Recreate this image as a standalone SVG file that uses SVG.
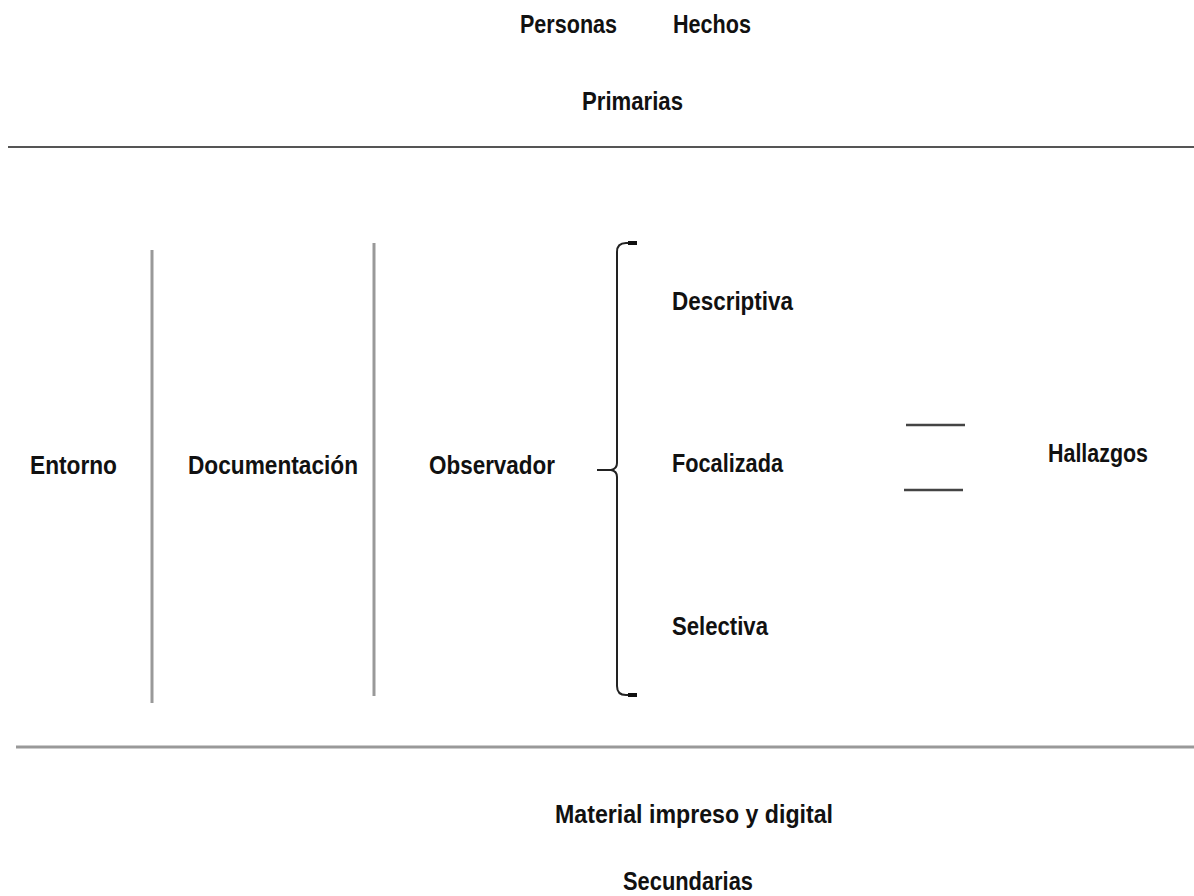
<svg xmlns="http://www.w3.org/2000/svg" width="1194" height="896" viewBox="0 0 1194 896">
  <style>
    .t { font-family: "Liberation Sans", Arial, sans-serif; font-weight: bold; font-size: 25px; fill: #111; }
    .rule { stroke: #555; stroke-width: 2; fill: none; }
    .rule2 { stroke: #999; stroke-width: 3; fill: none; }
    .sep { stroke: #999; stroke-width: 3; fill: none; }
    .dash { stroke: #444; stroke-width: 2.5; fill: none; }
    .brace { stroke: #222; stroke-width: 2; fill: none; }
    .cap { stroke: #111; stroke-width: 4; fill: none; }
  </style>
  <rect width="1194" height="896" fill="#fff"/>

  <g id="primarias">
    <text class="t" x="520" y="33" textLength="97" lengthAdjust="spacingAndGlyphs">Personas</text>
    <text class="t" x="673" y="33" textLength="78" lengthAdjust="spacingAndGlyphs">Hechos</text>
    <text class="t" x="582" y="110" textLength="101" lengthAdjust="spacingAndGlyphs">Primarias</text>
  </g>

  <g id="connectors">
    <line class="rule" x1="8" y1="147" x2="1194" y2="147"/>
    <line class="rule2" x1="16" y1="747" x2="1194" y2="747"/>
    <line class="sep" x1="152" y1="250" x2="152" y2="703"/>
    <line class="sep" x1="374" y1="243" x2="374" y2="696"/>
    <path class="brace" d="M636 243 H626 Q617 243 617 252 V463 Q617 469 611 470 H597 M611 470 Q617 471 617 477 V686 Q617 695 626 695 H636"/>
    <line class="cap" x1="628" y1="243" x2="637" y2="243"/>
    <line class="cap" x1="628" y1="695" x2="637" y2="695"/>
    <line class="dash" x1="906" y1="425" x2="965" y2="425"/>
    <line class="dash" x1="904" y1="490" x2="963" y2="490"/>
  </g>

  <g id="entorno">
    <text class="t" x="30" y="474" textLength="87" lengthAdjust="spacingAndGlyphs">Entorno</text>
  </g>
  <g id="documentacion">
    <text class="t" x="188" y="474" textLength="170" lengthAdjust="spacingAndGlyphs">Documentación</text>
  </g>
  <g id="observador">
    <text class="t" x="429" y="474" textLength="126" lengthAdjust="spacingAndGlyphs">Observador</text>
  </g>
  <g id="descriptiva">
    <text class="t" x="672" y="310" textLength="121" lengthAdjust="spacingAndGlyphs">Descriptiva</text>
  </g>
  <g id="focalizada">
    <text class="t" x="672" y="472" textLength="111" lengthAdjust="spacingAndGlyphs">Focalizada</text>
  </g>
  <g id="selectiva">
    <text class="t" x="672" y="635" textLength="96" lengthAdjust="spacingAndGlyphs">Selectiva</text>
  </g>
  <g id="hallazgos">
    <text class="t" x="1048" y="462" textLength="100" lengthAdjust="spacingAndGlyphs">Hallazgos</text>
  </g>

  <g id="secundarias">
    <text class="t" x="555" y="823" textLength="278" lengthAdjust="spacingAndGlyphs">Material impreso y digital</text>
    <text class="t" x="623" y="890" textLength="130" lengthAdjust="spacingAndGlyphs">Secundarias</text>
  </g>
</svg>
